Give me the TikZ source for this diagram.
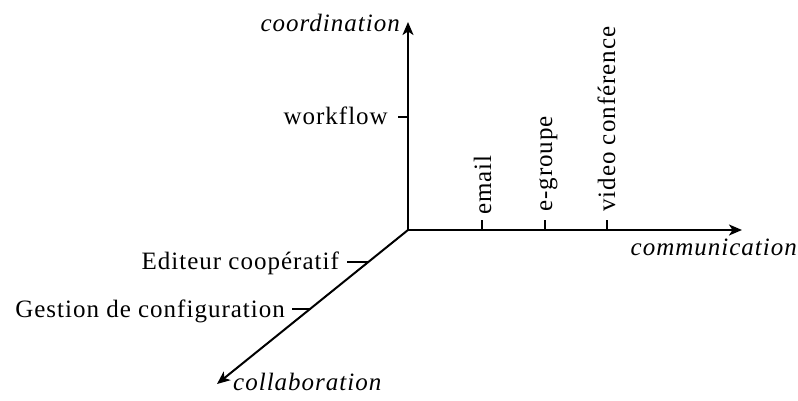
\documentclass[tikz,border=0pt]{standalone}
\usepackage{fontspec}
\setmainfont{Liberation Serif}[LetterSpace=4]
\usetikzlibrary{arrows.meta}
\begin{document}
\begin{tikzpicture}[x=1pt,y=1pt,
    axis/.style={line width=2pt,-{Stealth[length=13pt,width=11pt,inset=3.5pt]}},
    tick/.style={line width=2pt},
    lbl/.style={inner sep=0pt,font=\fontsize{25}{29}\selectfont},
    axlbl/.style={lbl,font=\fontsize{25}{29}\selectfont\itshape}]
  \useasboundingbox (0,0) rectangle (798,400);
  % axes
  \coordinate (O) at (408,170);
  \coordinate (up) at (408,378);
  \coordinate (right) at (742,170);
  \coordinate (down) at (217,16);
  \draw[axis] (O) -- (up);
  \draw[axis] (O) -- (right);
  \draw[axis] (O) -- (down);
  \node[axlbl,anchor=base east] (lcoord) at (400,368) {coordination};
  \node[axlbl,anchor=base east] (lcomm) at (797,145) {communication};
  \node[axlbl,anchor=base west] (lcollab) at (233,10) {collaboration};
  % ticks on the vertical axis
  \coordinate (w0) at (408,283);
  \coordinate (w1) at (398,283);
  \draw[tick] (w0) -- (w1);
  \node[lbl,anchor=base east] (lwork) at (388,276) {workflow};
  % ticks on the horizontal axis
  \foreach \n/\x in {a/482,b/545,c/607}{
    \coordinate (\n0) at (\x,170);
    \coordinate (\n1) at (\x,180);
    \draw[tick] (\n0) -- (\n1);
  }
  \node[lbl,rotate=90,anchor=base west] (lmail) at (491,185) {email};
  \node[lbl,rotate=90,anchor=base west] (lgrp) at (552,188) {e-groupe};
  \node[lbl,rotate=90,anchor=base west] (lvid) at (615,188) {video conférence};
  % ticks on the diagonal axis
  \coordinate (d0) at (368,138);
  \coordinate (d1) at (347,138);
  \coordinate (e0) at (311,91);
  \coordinate (e1) at (292,91);
  \draw[tick] (d0) -- (d1);
  \draw[tick] (e0) -- (e1);
  \node[lbl,anchor=base east] (ledit) at (339,131) {Editeur coopératif};
  \node[lbl,anchor=base east] (lgest) at (285,83) {Gestion de configuration};
\end{tikzpicture}
\end{document}
